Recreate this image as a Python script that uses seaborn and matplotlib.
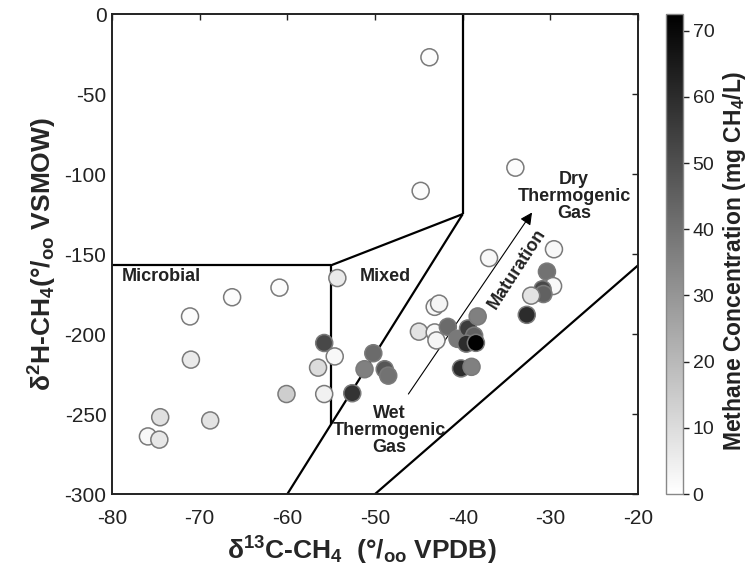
import numpy as np
import pandas as pd
import matplotlib
matplotlib.use("Agg")
import matplotlib.pyplot as plt
import seaborn as sns
from matplotlib.cm import ScalarMappable
from matplotlib.colors import Normalize

sns.set_style("white")
plt.rcParams["font.family"] = ["Liberation Sans", "DejaVu Sans"]
plt.rcParams["axes.unicode_minus"] = False
plt.rcParams["mathtext.fontset"] = "custom"
plt.rcParams["mathtext.rm"] = "Liberation Sans:bold"
plt.rcParams["mathtext.it"] = "Liberation Sans:bold"
plt.rcParams["mathtext.bf"] = "Liberation Sans:bold"

# Stable isotope composition of methane and dissolved methane concentration
d13c = [-43.8, -44.8, -54.3, -60.9, -66.3, -71.1, -71.0, -74.5, -75.9, -74.6,
        -68.8, -60.1, -55.8, -56.5, -55.8, -54.6, -52.6, -50.2, -51.2, -48.9,
        -48.5, -45.0, -43.2, -43.0, -43.2, -42.7, -41.7, -40.6, -39.4, -38.3,
        -38.7, -39.6, -38.5, -40.2, -39.0, -37.0, -34.0, -29.6, -30.4, -29.7,
        -30.9, -30.8, -32.2, -32.7]
d2h = [-27, -110.5, -165, -171, -177, -189, -216, -252, -264, -266,
       -254, -237.5, -205.6, -221, -237.5, -214, -237, -212, -222, -222,
       -226, -198.5, -199, -204, -183, -181, -195.5, -203, -196.5, -189,
       -201, -206, -205.5, -221.5, -220.5, -152.5, -96, -147, -161, -170,
       -172, -175, -176, -188]
conc = [1, 1, 6, 1, 1, 1, 6, 9, 2, 7,
        8, 14, 52, 10, 4, 2, 58, 42, 36, 48,
        40, 8, 2, 3, 2, 3, 42, 38, 55, 36,
        45, 60, 72, 60, 36, 2, 1, 2, 40, 2,
        52, 45, 8, 60]

xticks = [-80, -70, -60, -50, -40, -30, -20]
yticks = [-300, -250, -200, -150, -100, -50, 0]
cbar_ticks = [0, 10, 20, 30, 40, 50, 60, 70]
conc_max = 72.5

# Genetic field boundaries (x, y vertices)
microbial_top = ([-80, -55], [-157, -157])
mixed_left = ([-55, -55], [-157, -256])
mixed_top = ([-55, -40], [-157, -125])
microbial_right = ([-40, -40], [-125, 0])
thermo_upper = ([-60, -40], [-300, -125])
thermo_lower = ([-50, -20], [-300, -157])

df = pd.DataFrame({"d13C": d13c, "d2H": d2h, "conc": conc})

fig = plt.figure(figsize=(7.49, 5.70), dpi=100)
ax = fig.add_axes([0.1495, 0.1333, 0.7025, 0.842])
cax = fig.add_axes([0.889, 0.1333, 0.0227, 0.842])

for xs, ys in [microbial_top, mixed_left, mixed_top, microbial_right,
               thermo_upper, thermo_lower]:
    ax.plot(xs, ys, color="black", lw=1.6, solid_capstyle="butt", zorder=2)

# Maturation trend arrow
ax.annotate("", xy=(-32.1, -124), xytext=(-46.2, -237.5),
            arrowprops=dict(arrowstyle="-|>", color="#555555", lw=0.8,
                            mutation_scale=18, shrinkA=0, shrinkB=0,
                            fc="black", ec="black"), zorder=3)

cmap = plt.get_cmap("gray_r")
norm = Normalize(0, conc_max)
sns.scatterplot(data=df, x="d13C", y="d2H", hue="conc", palette=cmap,
                hue_norm=norm, legend=False, s=150, edgecolor="#7a7a7a",
                linewidth=1.1, ax=ax, zorder=4)

lab = dict(fontsize=13, fontweight="bold", color="#222222")
ax.text(-78.9, -164, "Microbial", ha="left", va="center", **lab)
ax.text(-51.8, -164, "Mixed", ha="left", va="center", **lab)
ax.text(-48.4, -260, "Wet\nThermogenic\nGas", ha="center", va="center",
        linespacing=1.0, **lab)
ax.text(-27.3, -114, "Dry\nThermogenic\nGas", ha="center", va="center",
        linespacing=1.0, **lab)
ax.text(-33.8, -159, "Maturation", ha="center", va="center", rotation=57,
        rotation_mode="anchor", **lab)

ax.set_xlim(-80, -20)
ax.set_ylim(-300, 0)
ax.set_xticks(xticks)
ax.set_yticks(yticks)
ax.tick_params(direction="in", length=4, width=1, top=True, right=True,
               labelsize=15, colors="#222222")
ax.tick_params(axis="x", pad=11)
ax.tick_params(axis="y", pad=4)
for sp in ax.spines.values():
    sp.set_linewidth(1.4)
    sp.set_color("#222222")

ax.set_xlabel("δ$^{13}$C-CH$_4$  (°/$_{oo}$ VPDB)", fontsize=19,
              fontweight="bold", labelpad=2)
ax.xaxis.set_label_coords(0.475, -0.085, transform=ax.transAxes)
ax.set_ylabel("δ$^{2}$H-CH$_4$(°/$_{oo}$ VSMOW)", fontsize=19,
              fontweight="bold", labelpad=4)

cb = fig.colorbar(ScalarMappable(norm=norm, cmap=cmap), cax=cax)
cb.set_ticks(cbar_ticks)
cb.outline.set_edgecolor("#888888")
cb.outline.set_linewidth(1)
cax.tick_params(direction="out", length=4, width=1, labelsize=14,
                colors="#222222", pad=3)
fig.text(735 / 749, 1 - 261 / 570, "Methane Concentration (mg CH$_4$/L)",
         fontsize=16.5, fontweight="bold", color="#222222", rotation=90,
         ha="center", va="center")

fig.savefig("out.png", dpi=100)
